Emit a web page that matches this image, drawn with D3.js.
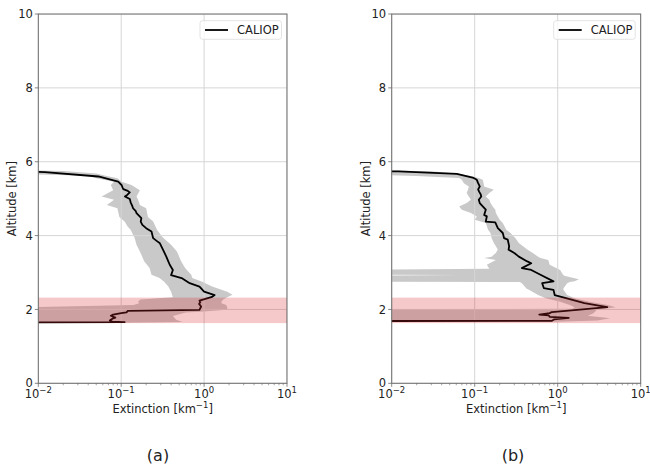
<!DOCTYPE html>
<html>
<head>
<meta charset="utf-8">
<script src="https://cdn.jsdelivr.net/npm/d3@7"></script>
<style>
  body { margin: 0; background: #fff; }
  svg { display: block; font-family: "DejaVu Sans", sans-serif; }
</style>
</head>
<body>
<div id="chart"></div>
<script>
// tick values
const xTicks = [1e-2, 1e-1, 1e0, 1e1];
const xTickExp = ['\u22122', '\u22121', '0', '1'];
const yTicks = [0, 2, 4, 6, 8, 10];

// shaded aerosol layer (km)
const layerBottom = 1.63;
const layerTop = 2.32;

// panel (a): CALIOP mean profile
const altLineA = [5.76, 5.72, 5.60, 5.46, 5.37, 5.30, 5.26, 5.21, 5.17, 5.10, 5.06, 4.99, 4.90, 4.82, 4.74, 4.66, 4.61, 4.47, 4.38, 4.29, 4.20, 4.11, 3.93, 3.85, 3.79, 3.61, 3.43, 3.30, 3.21, 3.07, 2.93, 2.85, 2.71, 2.62, 2.48, 2.39, 2.34, 2.24, 2.20, 2.15, 2.08, 1.99, 1.96, 1.92, 1.90, 1.86, 1.83, 1.78, 1.76, 1.72, 1.70, 1.67, 1.655, 1.645];
const extLineA = [0.0005, 0.012, 0.053, 0.092, 0.101, 0.104, 0.106, 0.12, 0.127, 0.118, 0.111, 0.127, 0.13, 0.135, 0.139, 0.15, 0.153, 0.175, 0.172, 0.18, 0.20, 0.232, 0.243, 0.27, 0.293, 0.32, 0.35, 0.37, 0.385, 0.42, 0.40, 0.535, 0.67, 0.88, 1.0, 1.34, 1.25, 0.88, 0.9, 0.87, 0.92, 0.88, 0.12, 0.116, 0.10, 0.08, 0.075, 0.085, 0.08, 0.075, 0.073, 0.078, 0.11, 0.0005];
// panel (a): spread
const altBandA = [5.78, 5.75, 5.68, 5.62, 5.55, 5.46, 5.37, 5.23, 5.06, 4.97, 4.83, 4.74, 4.50, 4.38, 4.24, 4.16, 4.02, 3.94, 3.75, 3.57, 3.30, 3.12, 2.94, 2.85, 2.75, 2.62, 2.48, 2.40, 2.33, 2.27, 2.21, 2.17, 2.12, 2.06, 1.99, 1.94, 1.92, 1.82, 1.72, 1.66, 1.64];
const lowBandA = [0.001, 0.001, 0.003, 0.04, 0.05, 0.082, 0.075, 0.08, 0.058, 0.082, 0.067, 0.09, 0.095, 0.11, 0.12, 0.13, 0.139, 0.145, 0.153, 0.168, 0.19, 0.22, 0.232, 0.29, 0.33, 0.37, 0.40, 0.41, 0.42, 0.17, 0.16, 0.165, 0.14, 0.008, 0.001, 0.001, 0.001, 0.001, 0.001, 0.001, 0.001];
const highBandA = [0.005, 0.02, 0.05, 0.065, 0.09, 0.101, 0.133, 0.168, 0.153, 0.16, 0.168, 0.20, 0.21, 0.243, 0.26, 0.27, 0.30, 0.32, 0.40, 0.47, 0.53, 0.59, 0.70, 0.72, 0.95, 1.25, 1.9, 2.2, 1.9, 1.7, 1.62, 1.62, 1.85, 1.9, 1.9, 0.88, 0.6, 0.42, 0.46, 0.55, 0.11];

// panel (b): CALIOP mean profile
const altLineB = [5.76, 5.74, 5.67, 5.56, 5.51, 5.42, 5.33, 5.25, 5.19, 5.12, 5.06, 4.97, 4.88, 4.79, 4.70, 4.56, 4.52, 4.38, 4.36, 4.20, 4.07, 3.93, 3.89, 3.71, 3.62, 3.53, 3.43, 3.30, 3.25, 3.12, 3.07, 2.94, 2.76, 2.71, 2.58, 2.53, 2.39, 2.30, 2.17, 2.06, 2.00, 1.93, 1.90, 1.86, 1.84, 1.80, 1.77, 1.73, 1.69, 1.685];
const extLineB = [0.0005, 0.012, 0.061, 0.097, 0.106, 0.11, 0.115, 0.11, 0.113, 0.118, 0.12, 0.112, 0.115, 0.125, 0.136, 0.13, 0.14, 0.136, 0.177, 0.19, 0.218, 0.226, 0.25, 0.26, 0.256, 0.3, 0.34, 0.43, 0.48, 0.37, 0.48, 0.62, 0.89, 0.65, 0.68, 0.89, 0.92, 1.29, 2.1, 3.95, 2.0, 0.85, 0.80, 0.60, 0.78, 0.80, 1.36, 0.9, 0.85, 0.0005];
// panel (b): spread
const altBandB = [5.78, 5.74, 5.68, 5.61, 5.56, 5.51, 5.42, 5.33, 5.24, 5.15, 5.06, 4.97, 4.88, 4.79, 4.70, 4.61, 4.52, 4.43, 4.34, 4.16, 4.07, 3.93, 3.80, 3.62, 3.53, 3.43, 3.39, 3.34, 3.21, 3.10, 3.07, 2.95, 2.93, 2.91, 2.82, 2.76, 2.74, 2.71, 2.57, 2.53, 2.39, 2.30, 2.21, 2.12, 2.06, 2.02, 2.00, 1.90, 1.83, 1.76, 1.70, 1.67];
const lowBandB = [0.001, 0.001, 0.003, 0.02, 0.065, 0.07, 0.074, 0.085, 0.083, 0.08, 0.085, 0.09, 0.08, 0.065, 0.07, 0.09, 0.106, 0.10, 0.136, 0.145, 0.155, 0.16, 0.17, 0.19, 0.18, 0.16, 0.13, 0.18, 0.14, 0.15, 0.001, 0.001, 0.07, 0.001, 0.001, 0.001, 0.35, 0.37, 0.42, 0.45, 0.58, 0.72, 1.07, 1.4, 1.6, 1.5, 0.001, 0.001, 0.001, 0.001, 0.001, 0.001];
const highBandB = [0.005, 0.03, 0.06, 0.09, 0.11, 0.125, 0.128, 0.13, 0.17, 0.15, 0.136, 0.15, 0.155, 0.165, 0.177, 0.18, 0.19, 0.20, 0.218, 0.24, 0.27, 0.31, 0.34, 0.43, 0.50, 0.58, 0.62, 0.77, 0.80, 1.0, 1.07, 1.15, 1.17, 1.2, 1.8, 1.6, 1.4, 1.3, 1.17, 1.17, 1.3, 1.6, 2.4, 4.0, 5.0, 3.6, 3.0, 2.7, 2.3, 4.3, 3.0, 1.0];

const svg = d3.select('#chart').append('svg')
  .attr('width', 650)
  .attr('height', 467);

drawPanel({ id: 'a', left: 38.3, right: 287, captionX: 158,
  altLine: altLineA, extLine: extLineA, altBand: altBandA, lowBand: lowBandA, highBand: highBandA });
drawPanel({ id: 'b', left: 391.7, right: 640.7, captionX: 513,
  altLine: altLineB, extLine: extLineB, altBand: altBandB, lowBand: lowBandB, highBand: highBandB });

function drawPanel(p) {
  const top = 14, bottom = 383.3;
  const x = d3.scaleLog().domain([1e-2, 1e1]).range([p.left, p.right]);
  const y = d3.scaleLinear().domain([0, 10]).range([bottom, top]);
  const g = svg.append('g');

  g.append('clipPath').attr('id', 'clip-' + p.id)
    .append('rect')
    .attr('x', p.left).attr('y', top)
    .attr('width', p.right - p.left).attr('height', bottom - top);

  const plot = g.append('g').attr('clip-path', 'url(#clip-' + p.id + ')');

  // spread of the profile
  const band = p.altBand.map((a, i) => ({ alt: a, lo: p.lowBand[i], hi: p.highBand[i] }));
  plot.append('path')
    .datum(band)
    .attr('fill', '#c9c9c9')
    .attr('d', d3.area()
      .y(d => y(d.alt))
      .x0(d => x(d.lo))
      .x1(d => x(d.hi)));

  // grid
  plot.selectAll('.gx').data(xTicks).enter().append('line')
    .attr('x1', d => x(d)).attr('x2', d => x(d))
    .attr('y1', top).attr('y2', bottom)
    .attr('stroke', '#d6d6d6').attr('stroke-width', 1);
  plot.selectAll('.gy').data(yTicks).enter().append('line')
    .attr('x1', p.left).attr('x2', p.right)
    .attr('y1', d => y(d)).attr('y2', d => y(d))
    .attr('stroke', '#d6d6d6').attr('stroke-width', 1);

  // mean profile
  const line = p.altLine.map((a, i) => ({ alt: a, ext: p.extLine[i] }));
  plot.append('path')
    .datum(line)
    .attr('fill', 'none')
    .attr('stroke', '#000')
    .attr('stroke-width', 1.8)
    .attr('stroke-linejoin', 'round')
    .attr('d', d3.line().x(d => x(d.ext)).y(d => y(d.alt)));

  // aerosol layer
  plot.append('rect')
    .attr('x', p.left).attr('width', p.right - p.left)
    .attr('y', y(layerTop)).attr('height', y(layerBottom) - y(layerTop))
    .attr('fill', 'rgb(214,39,40)').attr('fill-opacity', 0.25);

  // frame
  g.append('rect')
    .attr('x', p.left).attr('y', top)
    .attr('width', p.right - p.left).attr('height', bottom - top)
    .attr('fill', 'none').attr('stroke', '#6a6a6a').attr('stroke-width', 1);

  // minor ticks on log axis
  const minor = [];
  [1e-2, 1e-1, 1e0].forEach(dec => { for (let k = 2; k <= 9; k++) minor.push(dec * k); });
  g.selectAll('.mt').data(minor).enter().append('line')
    .attr('x1', d => x(d)).attr('x2', d => x(d))
    .attr('y1', bottom).attr('y2', bottom + 2)
    .attr('stroke', '#6a6a6a').attr('stroke-width', 0.6);

  // major ticks
  g.selectAll('.xt').data(xTicks).enter().append('line')
    .attr('x1', d => x(d)).attr('x2', d => x(d))
    .attr('y1', bottom).attr('y2', bottom + 3.5)
    .attr('stroke', '#6a6a6a').attr('stroke-width', 0.8);
  g.selectAll('.yt').data(yTicks).enter().append('line')
    .attr('x1', p.left - 3.5).attr('x2', p.left)
    .attr('y1', d => y(d)).attr('y2', d => y(d))
    .attr('stroke', '#6a6a6a').attr('stroke-width', 0.8);

  // tick labels
  g.selectAll('.yl').data(yTicks).enter().append('text')
    .attr('x', p.left - 5.5).attr('y', d => y(d))
    .attr('dy', '0.36em')
    .attr('text-anchor', 'end')
    .attr('font-size', 11.5)
    .attr('fill', '#222')
    .text(d => d);

  const xl = g.selectAll('.xl').data(xTicks).enter().append('text')
    .attr('x', d => x(d)).attr('y', 398)
    .attr('text-anchor', 'middle')
    .attr('font-size', 11.5)
    .attr('fill', '#222');
  xl.append('tspan').text('10');
  xl.append('tspan')
    .attr('font-size', 8.5)
    .attr('dy', -5)
    .text((d, i) => xTickExp[i]);

  // axis titles
  const xt = g.append('text')
    .attr('x', (p.left + p.right) / 2).attr('y', 413)
    .attr('text-anchor', 'middle')
    .attr('font-size', 11.5)
    .attr('fill', '#222');
  xt.append('tspan').text('Extinction [km');
  xt.append('tspan').attr('font-size', 8.5).attr('dy', -5).text('\u22121');
  xt.append('tspan').attr('dy', 5).text(']');

  g.append('text')
    .attr('transform', 'translate(' + (p.left - 26) + ',' + ((top + bottom) / 2) + ') rotate(-90)')
    .attr('dy', '0.35em')
    .attr('text-anchor', 'middle')
    .attr('font-size', 11.5)
    .attr('fill', '#222')
    .text('Altitude [km]');

  // legend
  const lx = p.right - 87, ly = 20.7;
  g.append('rect')
    .attr('x', lx).attr('y', ly)
    .attr('width', 81.5).attr('height', 18.6)
    .attr('rx', 2.5)
    .attr('fill', '#fff').attr('fill-opacity', 0.8)
    .attr('stroke', '#dcdcdc').attr('stroke-width', 0.8);
  g.append('line')
    .attr('x1', lx + 5).attr('x2', lx + 28)
    .attr('y1', ly + 9.3).attr('y2', ly + 9.3)
    .attr('stroke', '#000').attr('stroke-width', 1.8);
  g.append('text')
    .attr('x', lx + 37).attr('y', ly + 9.3)
    .attr('dy', '0.36em')
    .attr('font-size', 11.5)
    .attr('fill', '#222')
    .text('CALIOP');

  // panel caption
  g.append('text')
    .attr('x', p.captionX).attr('y', 461)
    .attr('text-anchor', 'middle')
    .attr('font-size', 16)
    .attr('fill', '#222')
    .text('(' + p.id + ')');
}
</script>
</body>
</html>
